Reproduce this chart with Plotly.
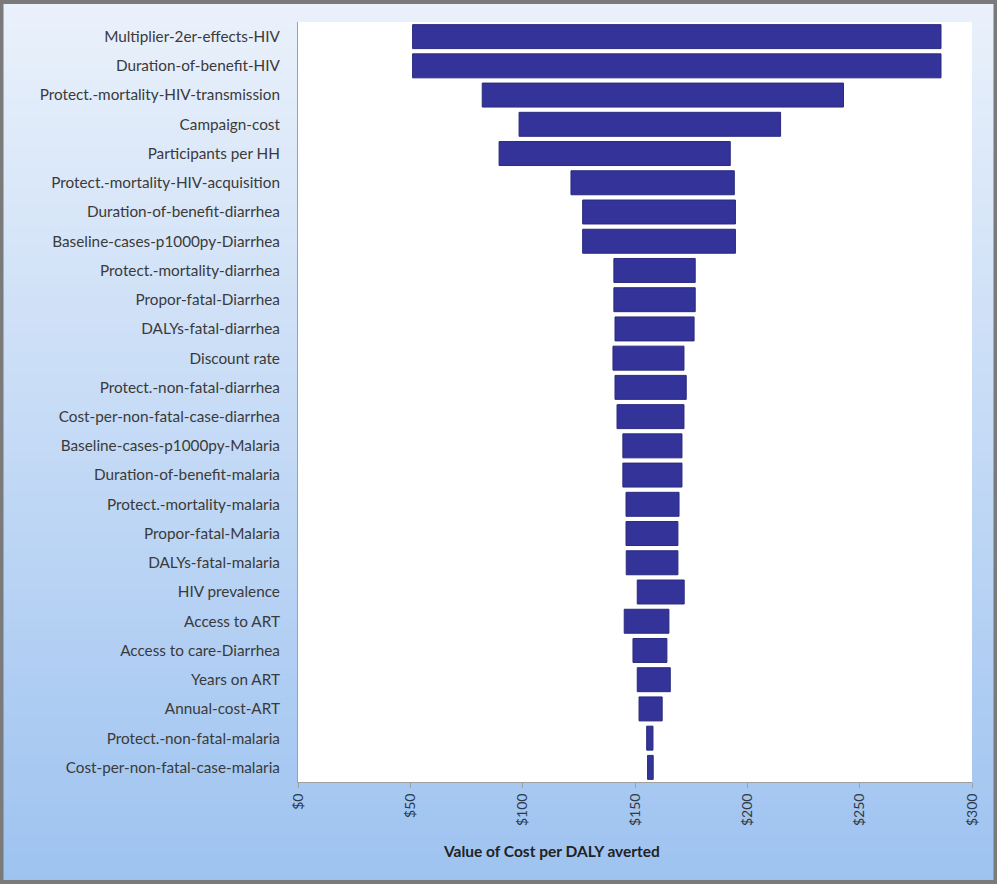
import plotly.graph_objects as go

# One-way sensitivity of cost per DALY averted (low / high value of each parameter)
parameters = [
    "Multiplier-2er-effects-HIV",
    "Duration-of-benefit-HIV",
    "Protect.-mortality-HIV-transmission",
    "Campaign-cost",
    "Participants per HH",
    "Protect.-mortality-HIV-acquisition",
    "Duration-of-benefit-diarrhea",
    "Baseline-cases-p1000py-Diarrhea",
    "Protect.-mortality-diarrhea",
    "Propor-fatal-Diarrhea",
    "DALYs-fatal-diarrhea",
    "Discount rate",
    "Protect.-non-fatal-diarrhea",
    "Cost-per-non-fatal-case-diarrhea",
    "Baseline-cases-p1000py-Malaria",
    "Duration-of-benefit-malaria",
    "Protect.-mortality-malaria",
    "Propor-fatal-Malaria",
    "DALYs-fatal-malaria",
    "HIV prevalence",
    "Access to ART",
    "Access to care-Diarrhea",
    "Years on ART",
    "Annual-cost-ART",
    "Protect.-non-fatal-malaria",
    "Cost-per-non-fatal-case-malaria",
]

low_values = [
    51.0, 51.0, 82.0, 98.4, 89.5, 121.5, 126.7, 126.7, 140.6, 140.6,
    141.1, 140.2, 141.1, 142.0, 144.6, 144.6, 146.0, 146.0, 146.1, 151.0,
    145.2, 149.1, 151.0, 151.8, 155.2, 155.6,
]

high_values = [
    286.2, 286.2, 242.8, 214.8, 192.4, 194.2, 194.7, 194.7, 176.8, 176.8,
    176.3, 171.8, 172.8, 171.8, 170.9, 170.9, 169.6, 169.1, 169.1, 171.9,
    165.1, 164.2, 165.7, 162.1, 158.0, 158.1,
]

x_tick_values = [0, 50, 100, 150, 200, 250, 300]
x_tick_labels = ["$0", "$50", "$100", "$150", "$200", "$250", "$300"]

axis_title = "Value of Cost per DALY averted"

# Figure geometry (pixels)
FIG_W, FIG_H = 997, 884
M_L, M_R, M_T, M_B = 298, 25, 22, 102
PW = FIG_W - M_L - M_R
PH = FIG_H - M_T - M_B


def px_to_paper_x(px):
    return (px - M_L) / PW


def px_to_paper_y(py):
    return (FIG_H - M_B - py) / PH


widths = [h - l for l, h in zip(low_values, high_values)]

fig = go.Figure(
    go.Bar(
        y=parameters,
        x=widths,
        base=low_values,
        orientation="h",
        marker=dict(color="#333399", line=dict(color="#2a2a7e", width=1)),
        hoverinfo="skip",
    )
)

# Blue vertical gradient behind the whole chart
shapes = []
n_bands = 90
top_rgb = (234, 241, 251)
bot_rgb = (158, 195, 240)
for i in range(n_bands):
    t = i / (n_bands - 1)
    r = round(top_rgb[0] + (bot_rgb[0] - top_rgb[0]) * t)
    g = round(top_rgb[1] + (bot_rgb[1] - top_rgb[1]) * t)
    b = round(top_rgb[2] + (bot_rgb[2] - top_rgb[2]) * t)
    y_top = FIG_H * i / n_bands
    y_bot = FIG_H * (i + 1) / n_bands + 1
    shapes.append(dict(
        type="rect", xref="paper", yref="paper", layer="below",
        x0=px_to_paper_x(0), x1=px_to_paper_x(FIG_W),
        y0=px_to_paper_y(y_bot), y1=px_to_paper_y(y_top),
        fillcolor=f"rgb({r},{g},{b})", line=dict(width=0),
    ))

# White plotting area on top of the gradient
shapes.append(dict(
    type="rect", xref="paper", yref="paper", layer="below",
    x0=0, x1=1, y0=0, y1=1, fillcolor="white", line=dict(width=0),
))

# Grey frame around the chart
shapes.append(dict(
    type="rect", xref="paper", yref="paper", layer="above",
    x0=px_to_paper_x(1.5), x1=px_to_paper_x(FIG_W - 1.5),
    y0=px_to_paper_y(FIG_H - 2), y1=px_to_paper_y(2),
    fillcolor="rgba(0,0,0,0)", line=dict(color="#7a7a7a", width=4),
))

fig.update_layout(
    width=FIG_W,
    height=FIG_H,
    margin=dict(l=M_L, r=M_R, t=M_T, b=M_B, pad=0),
    paper_bgcolor="#c8dbf4",
    plot_bgcolor="white",
    showlegend=False,
    bargap=0.18,
    shapes=shapes,
    font=dict(family="Lato, 'Open Sans', sans-serif", color="#3a3a3a"),
    xaxis=dict(
        range=[0, 300],
        tickvals=x_tick_values,
        ticktext=x_tick_labels,
        tickangle=-90,
        ticks="outside",
        ticklen=5,
        tickcolor="#a0a0a0",
        showline=True,
        linecolor="#a0a0a0",
        linewidth=1,
        showgrid=False,
        zeroline=False,
        tickfont=dict(size=14, color="#2e3a4a"),
        fixedrange=True,
    ),
    yaxis=dict(
        autorange="reversed",
        showline=True,
        linecolor="#a0a0a0",
        linewidth=1,
        showgrid=False,
        ticks="",
        ticklabelstandoff=14,
        tickfont=dict(size=15.3, color="#3a3a3a"),
        fixedrange=True,
    ),
    annotations=[
        dict(
            text=f"<b>{axis_title}</b>",
            xref="paper", yref="paper",
            x=px_to_paper_x(551), y=px_to_paper_y(851),
            xanchor="center", yanchor="middle",
            showarrow=False,
            font=dict(size=15.5, color="#222222"),
        )
    ],
)

fig.write_html("out.html")
